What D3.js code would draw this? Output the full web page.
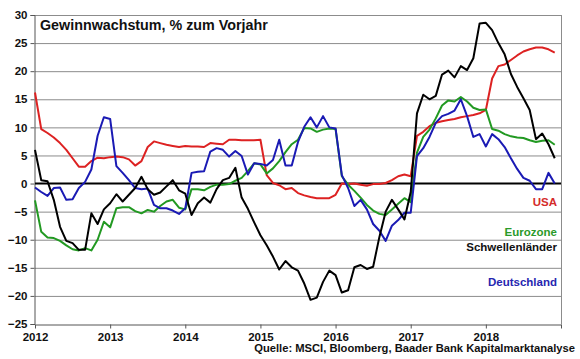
<!DOCTYPE html>
<html><head><meta charset="utf-8">
<script src="https://cdn.jsdelivr.net/npm/d3@7"></script>
<style>
html,body{margin:0;padding:0;background:#fff;}
svg{display:block;font-family:"Liberation Sans",Arial,sans-serif;}
</style></head>
<body><svg id="c" width="580" height="359"></svg>
<script>
const title = "Gewinnwachstum, % zum Vorjahr";
const source = "Quelle: MSCI, Bloomberg, Baader Bank Kapitalmarktanalyse";
const yearLabels = ["2012","2013","2014","2015","2016","2017","2018"];
const yTicks = [30,25,20,15,10,5,0,-5,-10,-15,-20,-25];
const seriesNames = ["USA","Eurozone","Schwellenländer","Deutschland"];
const seriesColors = ["#dd2222","#229922","#000000","#1a1ab4"];
const labelColors = ["#d42a2a","#2a9a2a","#111111","#2626b0"];

// monthly values, Jan 2012 - Dec 2018
const usa = [16.2,9.7,9.0,8.2,7.2,6.0,4.5,3.0,3.0,4.0,4.6,4.5,
  4.7,4.8,4.7,4.3,3.2,4.0,6.5,7.5,7.2,6.9,6.7,6.5,
  6.7,6.6,6.6,6.5,7.2,7.1,7.0,7.8,7.8,7.7,7.7,7.7,
  7.8,1.5,0.1,-0.3,-1.0,-0.8,-1.7,-2.1,-2.4,-2.6,-2.6,-2.6,
  -2.0,0.0,-0.1,0.0,-0.2,-0.4,-0.1,-0.1,0.1,0.6,1.3,1.6,
  1.3,8.5,9.2,10.2,10.8,11.1,11.3,11.5,11.8,12.0,12.2,12.5,
  13.1,18.7,20.9,21.2,22.0,22.8,23.5,23.9,24.2,24.2,23.9,23.3];
const eurozone = [-3.0,-8.6,-9.6,-9.7,-10.2,-11.0,-11.7,-11.9,-11.5,-11.9,-10.0,-6.8,
  -7.8,-4.4,-4.2,-4.2,-4.9,-5.3,-4.7,-5.0,-4.0,-3.2,-2.9,-4.3,
  -4.6,-1.0,-1.0,-1.2,-0.6,-0.2,-0.2,-0.1,0.5,1.0,2.2,3.6,
  3.4,1.8,2.7,4.0,5.6,7.0,7.8,9.9,9.8,9.2,9.6,9.8,
  9.7,1.3,-0.2,-1.3,-2.5,-3.8,-4.8,-5.4,-5.6,-4.6,-3.6,-2.6,
  -3.3,5.5,8.3,9.6,11.6,13.9,14.8,14.6,15.4,14.6,13.5,13.1,
  13.2,9.7,9.4,8.8,8.4,8.2,8.1,7.7,7.4,7.6,7.7,6.9];
const schwellen = [6.0,0.6,0.4,-2.9,-7.7,-10.2,-10.6,-11.8,-11.8,-5.3,-7.2,-4.6,
  -3.5,-1.9,-3.2,-2.0,-0.8,1.2,-1.0,-2.0,-1.6,-0.5,0.6,-1.2,
  -1.8,-5.6,-3.5,-2.5,-3.4,-1.0,0.6,1.0,2.8,-2.5,-4.5,-6.9,
  -9.2,-11.0,-13.0,-15.3,-13.8,-14.9,-15.5,-17.8,-20.7,-20.3,-17.5,-15.5,
  -16.3,-19.4,-19.0,-14.9,-14.5,-15.2,-14.8,-9.5,-5.0,-2.9,-4.6,-6.4,
  -1.5,12.5,15.8,15.0,15.6,19.4,20.1,18.9,20.9,20.2,22.3,28.5,
  28.6,27.3,25.0,23.0,19.5,17.2,15.2,13.1,7.9,8.9,7.0,4.5];
const deutschland = [-0.7,-1.5,-2.2,-0.8,-0.7,-2.9,-2.8,-0.8,0.3,2.5,8.5,11.8,
  11.5,3.1,1.9,0.6,-0.8,-1.0,-0.9,-3.8,-4.4,-4.4,-4.8,-5.4,
  -4.4,1.9,2.1,2.2,5.7,6.3,6.0,4.8,5.8,4.9,1.6,3.6,
  3.5,3.2,4.2,7.8,3.2,3.2,7.4,10.1,11.8,10.0,12.0,10.0,
  9.8,1.5,-0.8,-4.0,-2.9,-4.6,-7.2,-8.4,-10.2,-7.5,-6.5,-5.2,
  -5.2,4.9,6.3,8.3,10.8,12.0,12.4,13.0,15.0,12.0,8.3,8.8,
  6.6,8.8,7.9,6.5,4.5,2.6,1.0,0.5,-1.0,-1.0,1.9,0.0];
const allSeries = [usa, eurozone, schwellen, deutschland];

const svg = d3.select("#c");
const x = d3.scaleLinear().domain([0, 84]).range([35, 561]);
const y = d3.scaleLinear().domain([-25, 30]).range([324, 15]);

// gridlines
svg.append("g").selectAll("line").data(yTicks.filter(t => t !== 0 && t !== -25)).join("line")
  .attr("x1", x(0)).attr("x2", x(84))
  .attr("y1", d => y(d) + 0.5).attr("y2", d => y(d) + 0.5)
  .attr("stroke", "#8c8c8c").attr("stroke-width", 1);

// right border
svg.append("line").attr("x1", x(84) + 0.5).attr("x2", x(84) + 0.5)
  .attr("y1", y(30)).attr("y2", y(-25)).attr("stroke", "#8c8c8c");

// y axis
const yAxis = d3.axisLeft(y).tickValues(yTicks).tickSize(4).tickFormat(d3.format("d"));
const ya = svg.append("g").attr("transform", `translate(${x(0) - 0.5},0)`).call(yAxis);
ya.select(".domain").attr("stroke", "#555");
ya.selectAll(".tick line").attr("stroke", "#555");
ya.selectAll("text").attr("font-size", 11.5).attr("font-weight", "bold").attr("fill", "#111")
  .attr("x", -7).attr("font-family", "Liberation Sans, Arial, sans-serif");

// x axis
const xAxis = d3.axisBottom(x).tickValues(d3.range(0, 85, 12)).tickSize(4)
  .tickSizeOuter(0)
  .tickFormat(d => yearLabels[d / 12] || "");
const xa = svg.append("g").attr("transform", `translate(0,${y(-25) + 0.5})`).call(xAxis);
xa.select(".domain").attr("stroke", "#555");
xa.selectAll(".tick line").attr("stroke", "#555");
xa.selectAll("text").attr("font-size", 11.5).attr("font-weight", "bold").attr("fill", "#111")
  .attr("y", 8).attr("font-family", "Liberation Sans, Arial, sans-serif");

// zero line
svg.append("line").attr("x1", x(0)).attr("x2", x(84))
  .attr("y1", y(0)).attr("y2", y(0)).attr("stroke", "#000").attr("stroke-width", 2);

// series lines
const line = d3.line().x((d, i) => x(i)).y(d => y(d));
const order = [0, 1, 3, 2];
order.forEach(k => {
  svg.append("path").datum(allSeries[k]).attr("d", line)
    .attr("fill", "none").attr("stroke", seriesColors[k])
    .attr("stroke-width", 2).attr("stroke-linejoin", "round");
});

// title
svg.append("text").attr("x", 40).attr("y", 30).text(title)
  .attr("font-size", 14.3).attr("font-weight", "bold").attr("fill", "#111");

// legend labels
const labelY = [206, 236, 251, 286];
seriesNames.forEach((n, i) => {
  svg.append("text").attr("x", 557).attr("y", labelY[i]).attr("text-anchor", "end")
    .text(n).attr("font-size", 11.5).attr("font-weight", "bold").attr("fill", labelColors[i]);
});

// source
svg.append("text").attr("x", 575).attr("y", 351.5).attr("text-anchor", "end")
  .text(source).attr("font-size", 11.2).attr("font-weight", "bold").attr("fill", "#111");
</script></body></html>
